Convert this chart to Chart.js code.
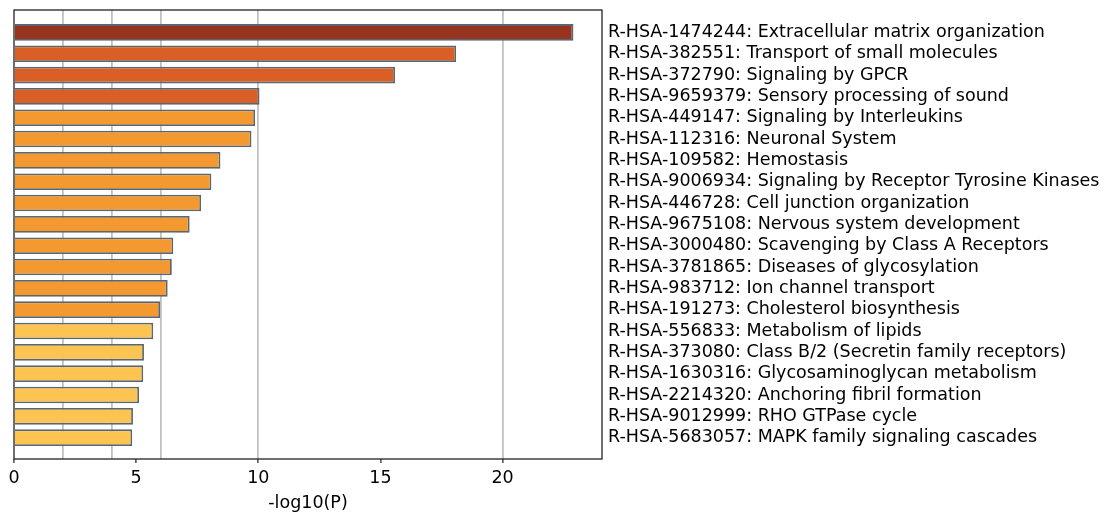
<!DOCTYPE html>
<html lang="en">
<head>
  <meta charset="UTF-8">
  <title>Reactome enrichment</title>
  <script src="https://cdn.jsdelivr.net/npm/chart.js"></script>
  <style>
    body {
      margin: 0;
      background: white;
    }
    .wrap {
      width: 1105px;
      height: 514px;
    }
  </style>
</head>
<body>
  <div class="wrap">
    <canvas id="chart"></canvas>
  </div>
  <script>
    const terms = [
      'R-HSA-1474244: Extracellular matrix organization',
      'R-HSA-382551: Transport of small molecules',
      'R-HSA-372790: Signaling by GPCR',
      'R-HSA-9659379: Sensory processing of sound',
      'R-HSA-449147: Signaling by Interleukins',
      'R-HSA-112316: Neuronal System',
      'R-HSA-109582: Hemostasis',
      'R-HSA-9006934: Signaling by Receptor Tyrosine Kinases',
      'R-HSA-446728: Cell junction organization',
      'R-HSA-9675108: Nervous system development',
      'R-HSA-3000480: Scavenging by Class A Receptors',
      'R-HSA-3781865: Diseases of glycosylation',
      'R-HSA-983712: Ion channel transport',
      'R-HSA-191273: Cholesterol biosynthesis',
      'R-HSA-556833: Metabolism of lipids',
      'R-HSA-373080: Class B/2 (Secretin family receptors)',
      'R-HSA-1630316: Glycosaminoglycan metabolism',
      'R-HSA-2214320: Anchoring fibril formation',
      'R-HSA-9012999: RHO GTPase cycle',
      'R-HSA-5683057: MAPK family signaling cascades'
    ];
    const logP = [22.9, 18.1, 15.6, 10.05, 9.87, 9.72, 8.45, 8.08, 7.66, 7.19,
                  6.52, 6.46, 6.29, 5.98, 5.7, 5.32, 5.29, 5.12, 4.87, 4.84];
    // color bucket per term (0 darkest .. 3 lightest)
    const colorGroup = [0, 1, 1, 1, 2, 2, 2, 2, 2, 2, 2, 2, 2, 2, 3, 3, 3, 3, 3, 3];
    const palette = ['#97341f', '#d95f27', '#f3992f', '#fdc452'];
    const xTickLabels = [0, 5, 10, 15, 20];
    const gridLines = [2, 4, 6, 10, 20];
    const xMax = 24.07;

    const font = { family: 'DejaVu Sans', size: 17.5 };
    const allXTicks = [...new Set([...xTickLabels, ...gridLines])].sort((a, b) => a - b);

    const boxPlugin = {
      id: 'box',
      afterDraw(chart) {
        const a = chart.chartArea;
        const ctx = chart.ctx;
        ctx.save();
        ctx.strokeStyle = '#222';
        ctx.lineWidth = 1.3;
        ctx.strokeRect(a.left, a.top, a.right - a.left, a.bottom - a.top);
        ctx.restore();
      }
    };

    new Chart(document.getElementById('chart'), {
      type: 'bar',
      data: {
        datasets: [{
          data: logP.map((v, i) => ({ x: v, y: i })),
          backgroundColor: colorGroup.map(g => palette[g]),
          borderColor: '#5a6670',
          borderWidth: 1.8,
          barPercentage: 0.78,
          categoryPercentage: 1
        }]
      },
      options: {
        indexAxis: 'y',
        responsive: true,
        maintainAspectRatio: false,
        animation: false,
        layout: { padding: { top: 10, left: 14, right: 0, bottom: 0 } },
        plugins: {
          legend: { display: false },
          tooltip: { enabled: false }
        },
        scales: {
          x: {
            type: 'linear',
            min: 0,
            max: xMax,
            afterBuildTicks: axis => { axis.ticks = allXTicks.map(v => ({ value: v })); },
            afterFit: axis => { axis.height = 55; },
            border: { display: false },
            grid: {
              color: ctx => gridLines.includes(ctx.tick && ctx.tick.value) ? '#c0c0c0' : 'rgba(0,0,0,0)',
              lineWidth: 1.8,
              tickColor: ctx => xTickLabels.includes(ctx.tick && ctx.tick.value) ? '#222' : 'rgba(0,0,0,0)',
              tickLength: 4,
              tickWidth: 1.2
            },
            ticks: {
              color: '#000',
              font: font,
              padding: 5,
              maxRotation: 0,
              autoSkip: false,
              callback: v => xTickLabels.includes(v) ? String(v) : ''
            },
            title: {
              display: true,
              text: '-log10(P)',
              color: '#000',
              font: font,
              padding: { top: 1, bottom: 0 }
            }
          },
          y: {
            type: 'linear',
            position: 'right',
            reverse: true,
            offset: false,
            min: -1.05,
            max: 20,
            afterBuildTicks: axis => { axis.ticks = terms.map((_, i) => ({ value: i })); },
            afterFit: axis => {
              axis.width = 503;
              axis.paddingTop = 0;
              axis.paddingBottom = 0;
            },
            border: { display: false },
            grid: { display: false, drawTicks: false },
            ticks: {
              color: '#000',
              font: font,
              padding: 6,
              autoSkip: false,
              callback: v => terms[v]
            }
          }
        }
      },
      plugins: [boxPlugin]
    });
  </script>
</body>
</html>
